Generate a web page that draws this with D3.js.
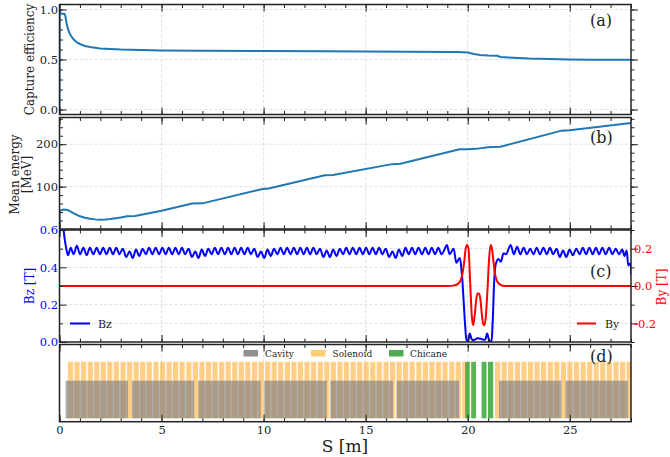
<!doctype html>
<html>
<head>
<meta charset="utf-8">
<script src="https://d3js.org/d3.v7.min.js"></script>
<style>
	body { margin:0; background:#fff; }
	svg { display:block; }
	text { font-family:"DejaVu Serif",serif; fill:#222; }
	.grid line { stroke:#ddd; stroke-width:0.9; stroke-dasharray:3 2; }
	.grid path { display:none; }
	.tk path { display:none; }
	.tk line { stroke:#222; }
	.tk text { font-size:11.5px; }
	.spine { fill:none; stroke:#222; stroke-width:1.5; }
</style>
</head>
<body>
<script>
// panel (a)
var capS = [0,0.01,0.05,0.25,0.29,0.35,0.42,0.5,0.6,0.7,0.85,1,1.25,1.5,2,3,4,5,7,10,13,15,17,19.5,20,20.3,20.6,21,21.45,21.6,22,23,24,25,26,28];
var capV = [0,1,0.96,0.955,0.93,0.86,0.8,0.76,0.725,0.7,0.67,0.655,0.635,0.625,0.61,0.6,0.595,0.59,0.588,0.585,0.582,0.58,0.578,0.575,0.57,0.555,0.545,0.54,0.537,0.525,0.52,0.51,0.505,0.5,0.498,0.497];

// panel (b)
var enS = [0,0.01,0.2,0.4,0.55,0.7,1,1.25,1.5,1.75,2,2.25,2.5,3,3.3,3.7,5,6.5,7,10,10.2,13,13.4,16.3,16.7,19.6,20,20.4,21,21.6,24.6,25,28];
var enV = [3,43,46,45,41,37,30,26.5,24,22.7,22,22.3,23.5,27,30,30.5,43,60,60.5,95,95,127,127.5,153,154,188,188,189,193,194,232,233,250];

// panel (c)
var bzS = [0,0.2,0.3,0.42,0.55,0.69,0.85,1.01,1.17,1.33,1.49,1.66,1.82,1.98,2.14,2.3,2.46,2.62,2.78,2.94,3.1,3.27,3.43,3.59,3.75,3.91,4.07,4.23,4.39,4.55,4.71,4.88,5.04,5.2,5.36,5.52,5.68,5.84,6,6.16,6.32,6.49,6.65,6.81,6.97,7.13,7.29,7.45,7.61,7.77,7.93,8.1,8.26,8.42,8.58,8.74,8.9,9.06,9.22,9.38,9.54,9.71,9.87,10.03,10.19,10.35,10.51,10.67,10.83,10.99,11.15,11.32,11.48,11.64,11.8,11.96,12.12,12.28,12.44,12.6,12.76,12.93,13.09,13.25,13.41,13.57,13.73,13.89,14.05,14.21,14.37,14.54,14.7,14.86,15.02,15.18,15.34,15.5,15.66,15.82,15.98,16.15,16.31,16.47,16.63,16.79,16.95,17.11,17.27,17.43,17.59,17.76,17.92,18.08,18.24,18.4,18.56,18.72,18.88,18.98,19.12,19.3,19.45,19.6,19.7,19.8,19.88,19.95,20.02,20.1,20.2,20.3,20.48,20.7,20.85,20.95,21.05,21.14,21.22,21.3,21.38,21.5,21.62,21.76,21.88,22.1,22.26,22.42,22.58,22.74,22.9,23.06,23.22,23.38,23.54,23.71,23.87,24.03,24.19,24.35,24.51,24.67,24.83,24.99,25.15,25.32,25.48,25.64,25.8,25.96,26.12,26.28,26.44,26.6,26.76,26.93,27.09,27.25,27.41,27.57,27.68,27.78,27.88,27.96,28];
var bzT = [0.8,0.6,0.52,0.465,0.505,0.47,0.515,0.47,0.505,0.465,0.505,0.47,0.505,0.47,0.505,0.47,0.505,0.47,0.505,0.47,0.5,0.455,0.485,0.45,0.495,0.46,0.5,0.47,0.505,0.47,0.505,0.47,0.505,0.47,0.505,0.47,0.505,0.47,0.505,0.47,0.5,0.455,0.485,0.45,0.495,0.46,0.5,0.47,0.505,0.47,0.505,0.47,0.505,0.47,0.505,0.47,0.505,0.47,0.505,0.47,0.5,0.455,0.485,0.45,0.495,0.46,0.5,0.47,0.505,0.47,0.505,0.47,0.505,0.47,0.505,0.47,0.505,0.47,0.505,0.47,0.5,0.455,0.49,0.455,0.495,0.46,0.5,0.47,0.505,0.47,0.505,0.47,0.505,0.47,0.505,0.47,0.505,0.47,0.505,0.47,0.5,0.455,0.485,0.45,0.495,0.46,0.505,0.47,0.505,0.47,0.505,0.47,0.505,0.47,0.505,0.47,0.505,0.47,0.5,0.52,0.47,0.5,0.425,0.45,0.38,0.22,0.08,0.01,0.005,0.045,0.015,0.01,0.02,0.015,0.012,0.045,0.01,0,0.1,0.33,0.42,0.445,0.43,0.475,0.47,0.52,0.47,0.51,0.47,0.505,0.47,0.5,0.47,0.505,0.47,0.505,0.47,0.505,0.47,0.5,0.455,0.49,0.455,0.495,0.465,0.5,0.47,0.505,0.47,0.505,0.47,0.505,0.47,0.505,0.47,0.505,0.47,0.5,0.47,0.495,0.46,0.49,0.41,0.42,0.36,0.3];
var byS = [0,19,19.3,19.5,19.65,19.75,19.83,19.9,19.97,20.04,20.12,20.2,20.27,20.34,20.42,20.48,20.55,20.62,20.69,20.75,20.82,20.89,20.97,21.05,21.12,21.19,21.26,21.33,21.42,21.55,21.8,28];
var byV = [0,0,0.002,0.01,0.03,0.07,0.13,0.2,0.22,0.2,0.02,-0.16,-0.21,-0.16,-0.07,-0.04,-0.04,-0.07,-0.15,-0.2,-0.21,-0.16,-0.02,0.15,0.22,0.2,0.13,0.07,0.03,0.01,0,0];

// panel (d)
var cavStart = [0.3,3.55,6.79,10.03,13.27,16.52,21.53,24.79];
var cavEnd = [3.36,6.6,9.86,13.1,16.34,19.58,24.59,27.85];
var solStart = [0.41,0.73,1.05,1.38,1.7,2.02,2.34,2.66,2.99,3.31,3.63,3.95,4.27,4.6,4.92,5.24,5.56,5.88,6.21,6.53,6.85,7.17,7.49,7.82,8.14,8.46,8.78,9.1,9.43,9.75,10.07,10.39,10.71,11.04,11.36,11.68,12,12.32,12.65,12.97,13.29,13.61,13.93,14.26,14.58,14.9,15.22,15.54,15.87,16.19,16.51,16.83,17.15,17.48,17.8,18.12,18.44,18.76,19.09,19.41,19.73,21.34,21.66,21.98,22.31,22.63,22.95,23.27,23.59,23.92,24.24,24.56,24.88,25.2,25.53,25.85,26.17,26.49,26.81,27.14,27.46,27.78];
var chiStart = [19.88,20.17,20.68,20.99];
var chiEnd = [20.1,20.41,20.92,21.25];
var legendNames = ["Cavity","Solenoid","Chicane"];
var xTicks = [0,5,10,15,20,25];

var width=670, height=457;
var left=59.5, right=631;
var solLen=0.255;

var svg=d3.select("body").append("svg").attr("width",width).attr("height",height);
var x_scale=d3.scaleLinear().domain([0,28]).range([left,right]);
var xMinor=d3.range(0,29);

var yA=d3.scaleLinear().domain([-0.05,1.05]).range([114.5,4.5]);
var yB=d3.scaleLinear().domain([0,263]).range([229,117.5]);
var yC=d3.scaleLinear().domain([0,0.6]).range([342,230]);
var yC2=d3.scaleLinear().domain([-0.3,0.3]).range([342,230]);
var yD=d3.scaleLinear().domain([-0.09,1.96]).range([421.7,344.5]);

var line=function(y,curve){
	return d3.line().x(function(d){return x_scale(d[0]);}).y(function(d){return y(d[1]);}).curve(curve);
};

function clip(id,y){
	svg.append("defs").append("clipPath").attr("id",id).append("rect")
		.attr("x",left).attr("width",right-left).attr("y",y.range()[1]).attr("height",y.range()[0]-y.range()[1]);
}

function grid(y,ticks){
	var t=y.range()[1], b=y.range()[0];
	var g=svg.append("g").attr("class","grid");
	g.selectAll(".v").data(xTicks.slice(1)).enter().append("line").attr("class","v")
		.attr("x1",x_scale).attr("x2",x_scale).attr("y1",t).attr("y2",b);
	g.selectAll(".h").data(ticks).enter().append("line").attr("class","h")
		.attr("x1",left).attr("x2",right).attr("y1",y).attr("y2",y);
}

// ticks all point inwards, major and minor on top and bottom
function xFrame(y,labels){
	var t=y.range()[1], b=y.range()[0];
	var g=svg.append("g").attr("class","tk");
	g.append("g").attr("transform","translate(0,"+b+")")
		.call(d3.axisBottom(x_scale).tickValues(xMinor).tickSizeInner(-3.5).tickSizeOuter(0).tickFormat(""));
	g.append("g").attr("transform","translate(0,"+t+")")
		.call(d3.axisTop(x_scale).tickValues(xMinor).tickSizeInner(-3.5).tickSizeOuter(0).tickFormat(""));
	g.append("g").attr("transform","translate(0,"+t+")")
		.call(d3.axisTop(x_scale).tickValues(xTicks).tickSizeInner(-7).tickSizeOuter(0).tickFormat(""));
	g.append("g").attr("transform","translate(0,"+b+")")
		.call(d3.axisBottom(x_scale).tickValues(xTicks).tickSizeInner(-7).tickSizeOuter(0).tickPadding(4.5).tickFormat(labels?d3.format("d"):""));
}

function yFrame(y,major,minor,fmt,side,color){
	var axis=side=="left"?d3.axisLeft:d3.axisRight;
	var pos=side=="left"?left:right;
	var sign=side=="left"?-1:1;
	var g=svg.append("g").attr("class","tk").attr("transform","translate("+pos+",0)");
	g.append("g").call(axis(y).tickValues(minor).tickSizeInner(3.5*sign).tickSizeOuter(0).tickFormat(""));
	var m=g.append("g").call(axis(y).tickValues(major).tickSizeInner(7*sign).tickSizeOuter(0).tickFormat(fmt||""));
	m.selectAll("text").attr("x",side=="left"?-1.5:3).style("fill",color||null);
}

function spine(y){
	svg.append("rect").attr("class","spine").attr("x",left).attr("width",right-left)
		.attr("y",y.range()[1]).attr("height",y.range()[0]-y.range()[1]);
}

function yLabel(lines,x,yc,color){
	lines.forEach(function(s,i){
		svg.append("text").attr("transform","translate("+(x+i*12)+","+yc+") rotate(-90)")
			.attr("text-anchor","middle").style("font-size","12px").style("fill",color||null).text(s);
	});
}

function panelTag(s,yPx){
	svg.append("text").attr("x",590).attr("y",yPx).style("font-size","16px").text(s);
}

[["ca",yA],["cb",yB],["cc",yC],["cd",yD]].forEach(function(c){clip(c[0],c[1]);});

// (a)
grid(yA,[0,0.5,1]);
svg.append("path").datum(d3.zip(capS,capV)).attr("d",line(yA,d3.curveLinear)).attr("fill","none").attr("stroke","#1f77b4").attr("stroke-width",2).attr("clip-path","url(#ca)");
xFrame(yA,false);
yFrame(yA,[0,0.5,1],d3.range(0,11).map(function(i){return i/10;}),d3.format(".1f"),"left");
yFrame(yA,[0,0.5,1],d3.range(0,11).map(function(i){return i/10;}),null,"right");
spine(yA);
yLabel(["Capture efficiency"],34,59.5);
panelTag("(a)",26);

// (b)
grid(yB,[100,200]);
svg.append("path").datum(d3.zip(enS,enV)).attr("d",line(yB,d3.curveLinear)).attr("fill","none").attr("stroke","#1f77b4").attr("stroke-width",2).attr("clip-path","url(#cb)");
xFrame(yB,false);
yFrame(yB,[100,200],d3.range(20,261,20),d3.format("d"),"left");
yFrame(yB,[100,200],d3.range(20,261,20),null,"right");
spine(yB);
yLabel(["Mean energy","[MeV]"],19,174.5);
panelTag("(b)",143);

// (c)
grid(yC,[0.1,0.2,0.3,0.4,0.5]);
svg.append("path").datum(d3.zip(bzS,bzT)).attr("d",line(yC,d3.curveCatmullRom)).attr("fill","none").attr("stroke","#00f").attr("stroke-width",2).attr("clip-path","url(#cc)");
svg.append("path").datum(d3.zip(byS,byV)).attr("d",line(yC2,d3.curveMonotoneX)).attr("fill","none").attr("stroke","#f00").attr("stroke-width",2).attr("clip-path","url(#cc)");
xFrame(yC,false);
yFrame(yC,[0,0.2,0.4,0.6],[0.1,0.3,0.5],d3.format(".1f"),"left","#00f");
yFrame(yC2,[-0.2,0,0.2],[-0.3,-0.1,0.1,0.3],function(d){return d3.format(".1f")(d).replace("\u2212","-");},"right","#f00");
spine(yC);
yLabel(["Bz [T]"],34,286,"#00f");
yLabel(["By [T]"],666,287,"#f00");
panelTag("(c)",277);

[[70,90,98,"Bz","#00f"],[577,596,605,"By","#f00"]].forEach(function(l){
	svg.append("line").attr("x1",l[0]).attr("x2",l[1]).attr("y1",323.5).attr("y2",323.5).attr("stroke",l[4]).attr("stroke-width",2);
	svg.append("text").attr("x",l[2]).attr("y",327.5).style("font-size","11px").text(l[3]);
});

// (d)
grid(yD,[]);
svg.append("g").attr("clip-path","url(#cd)").selectAll("rect").data(solStart).enter().append("rect")
	.attr("x",function(d){return x_scale(d);})
	.attr("width",function(d){return x_scale(d+solLen)-x_scale(d);})
	.attr("y",yD(1.5)).attr("height",yD(0)-yD(1.5))
	.attr("fill","#ff9f0e").attr("fill-opacity",0.5);
svg.append("g").selectAll("rect").data(d3.zip(cavStart,cavEnd)).enter().append("rect")
	.attr("x",function(d){return x_scale(d[0]);})
	.attr("width",function(d){return x_scale(d[1])-x_scale(d[0]);})
	.attr("y",yD(1)).attr("height",yD(0)-yD(1))
	.attr("fill","#808080").attr("fill-opacity",0.65);
svg.append("g").selectAll("rect").data(d3.zip(chiStart,chiEnd)).enter().append("rect")
	.attr("x",function(d){return x_scale(d[0]);})
	.attr("width",function(d){return x_scale(d[1])-x_scale(d[0]);})
	.attr("y",yD(1.5)).attr("height",yD(0)-yD(1.5))
	.attr("fill","#2ca02c").attr("fill-opacity",0.8);
xFrame(yD,true);
spine(yD);
panelTag("(d)",362);

var legCols=["#8f8f8f","#ffcc70","#4fab4f"];
var legX=[243.5,311,389], legTx=[265,332.5,410];
legendNames.forEach(function(n,i){
	svg.append("rect").attr("x",legX[i]).attr("y",350).attr("width",14.5).attr("height",6.5).attr("fill",legCols[i]);
	svg.append("text").attr("x",legTx[i]).attr("y",356.5).style("font-size","9px").text(n);
});

svg.append("text").attr("x",345).attr("y",452).attr("text-anchor","middle").style("font-size","17px").text("S [m]");
</script>
</body>
</html>
